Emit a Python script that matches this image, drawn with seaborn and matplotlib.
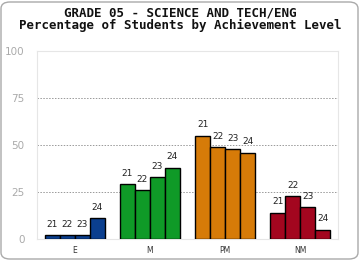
import matplotlib
matplotlib.use("Agg")
import matplotlib.pyplot as plt
from matplotlib.patches import FancyBboxPatch
import seaborn as sns
import pandas as pd

categories = ["E", "M", "PM", "NM"]
years = ["21", "22", "23", "24"]
values = {
    "E": [2, 2, 2, 11],
    "M": [29, 26, 33, 38],
    "PM": [55, 49, 48, 46],
    "NM": [14, 23, 17, 5],
}
colors = {"E": "#0b3f8f", "M": "#0f9a27", "PM": "#d67b08", "NM": "#a3061f"}
yticks = [0, 25, 50, 75, 100]
title1 = "GRADE 05 - SCIENCE AND TECH/ENG"
title2 = "Percentage of Students by Achievement Level"

rows = []
for c in categories:
    for y, v in zip(years, values[c]):
        rows.append({"cat": c, "year": y, "pct": v})
df = pd.DataFrame(rows)

sns.set_style("white")
fig = plt.figure(figsize=(3.6, 2.6), dpi=100)
ax = fig.add_axes([37/360, 1-239/260, 301/360, 188/260])

sns.barplot(data=df, x="cat", y="pct", hue="year", order=categories,
            hue_order=years, width=0.8, palette=["#888888"]*4,
            edgecolor="black", linewidth=1.0, legend=False, ax=ax, zorder=3)

# recolour bars per category and add year labels
for hi, cont in enumerate(ax.containers):
    for ci, bar in enumerate(cont):
        bar.set_facecolor(colors[categories[ci]])
        h = bar.get_height()
        ax.text(bar.get_x() + bar.get_width()/2, h + 3.3, years[hi],
                ha="center", va="bottom", fontsize=6.5, color="#222222",
                family="DejaVu Sans")

ax.set_ylim(0, 100)
ax.set_xlim(-0.5, 3.5)
ax.set_yticks(yticks)
ax.set_yticklabels([str(t) for t in yticks], fontsize=7.5, color="#aaaaaa")
ax.tick_params(axis="y", length=4, color="#bbbbbb", width=0.8, pad=5)
ax.tick_params(axis="x", length=0, labelsize=5.5, labelcolor="#333333", pad=5)
ax.set_xlabel("")
ax.set_ylabel("")
for t in [25, 50, 75]:
    ax.axhline(t, color="#999999", linestyle=(0, (1.5, 1.5)), linewidth=0.7, zorder=1)
for s in ax.spines.values():
    s.set_color("#e6e6e6")
    s.set_linewidth(0.8)

fig.text(0.5, 1-13/260, title1, ha="center", va="center", fontsize=9,
         fontweight="bold", family="DejaVu Sans Mono", color="#111111")
fig.text(0.5, 1-25/260, title2, ha="center", va="center", fontsize=9,
         fontweight="bold", family="DejaVu Sans Mono", color="#111111")

border = FancyBboxPatch((1/360, 1/260), 357/360, 257/260,
                        boxstyle="round,pad=0,rounding_size=0.025",
                        transform=fig.transFigure, fill=False,
                        edgecolor="#aaaaaa", linewidth=1.0)
fig.patches.append(border)

fig.savefig("out.png", dpi=100)
